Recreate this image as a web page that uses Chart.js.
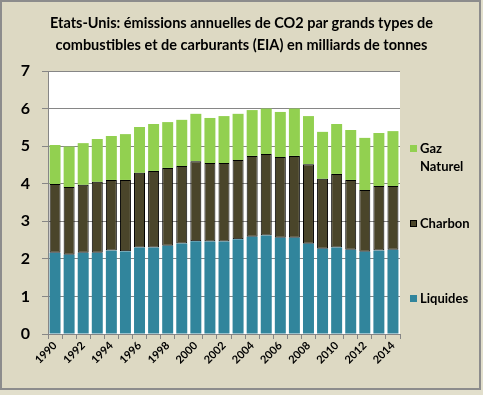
<!DOCTYPE html>
<html>
<head>
<meta charset="utf-8">
<script src="https://cdn.jsdelivr.net/npm/chart.js@4/dist/chart.umd.min.js"></script>
<style>
  html, body { margin: 0; padding: 0; background: #DDD9C3; }
  #wrap { position: relative; width: 483px; height: 395px; overflow: hidden; }
  #c { position: absolute; left: 0; top: 0; }
  #title { position: absolute; left: 0; top: 12px; width: 483px; text-align: center;
    font-family: Lato, sans-serif; font-weight: bold; font-size: 14.5px; line-height: 22px; color: #000; }
  .lg { position: absolute; left: 410px; font-family: Lato, sans-serif; font-weight: bold; font-size: 13px; line-height: 18px; color: #000; }
  .lg span.box { position: absolute; left: 0; width: 7px; height: 7px; }
  .lg span.txt { position: absolute; left: 10px; white-space: nowrap; }
</style>
</head>
<body>
<div id="wrap">
  <canvas id="c" width="483" height="395"></canvas>
  <div id="title">Etats-Unis: émissions annuelles de CO2 par grands types de<br>combustibles et de carburants (EIA) en milliards de tonnes</div>
  <div id="legend"></div>
</div>
<script>
const years = ['1990','1991','1992','1993','1994','1995','1996','1997','1998','1999','2000','2001','2002','2003','2004','2005','2006','2007','2008','2009','2010','2011','2012','2013','2014'];
const liquides = [2.16,2.11,2.16,2.16,2.22,2.20,2.30,2.30,2.35,2.41,2.47,2.46,2.46,2.52,2.59,2.62,2.56,2.56,2.40,2.27,2.30,2.24,2.19,2.22,2.24];
const charbon  = [1.83,1.80,1.81,1.89,1.88,1.90,1.99,2.04,2.07,2.06,2.13,2.09,2.09,2.11,2.15,2.17,2.15,2.18,2.12,1.86,1.96,1.86,1.64,1.72,1.70];
const gaz      = [1.04,1.08,1.11,1.14,1.17,1.22,1.22,1.25,1.22,1.23,1.26,1.20,1.25,1.23,1.22,1.21,1.20,1.26,1.28,1.25,1.33,1.33,1.39,1.41,1.46];
const yTicks = [0,1,2,3,4,5,6,7];
const seriesNames = ['Liquides','Charbon','Gaz Naturel'];
const colors = { liq: '#31859C', coal: '#4A452A', gas: '#92D050' };

// HTML legend (Gaz Naturel wraps onto two lines as in the reference)
const legendItems = [
  { lines: ['Gaz', 'Naturel'], color: colors.gas, top: 139, border: 'none' },
  { lines: ['Charbon'], color: colors.coal, top: 214, border: '1px solid #000' },
  { lines: ['Liquides'], color: colors.liq, top: 289, border: 'none' }
];
const lg = document.getElementById('legend');
legendItems.forEach(it => {
  const d = document.createElement('div');
  d.className = 'lg';
  d.style.top = it.top + 'px';
  const b = document.createElement('span');
  b.className = 'box';
  b.style.background = it.color;
  b.style.top = '6px';
  if (it.border !== 'none') { b.style.border = it.border; b.style.boxSizing = 'border-box'; }
  d.appendChild(b);
  const t = document.createElement('span');
  t.className = 'txt';
  t.innerHTML = it.lines.join('<br>');
  d.appendChild(t);
  lg.appendChild(d);
});

const bgPlugin = {
  id: 'bg',
  beforeDraw(chart) {
    const { ctx, chartArea: a } = chart;
    ctx.save();
    ctx.fillStyle = '#E2DFCC';
    ctx.fillRect(0, 0, chart.width, chart.height);
    ctx.fillStyle = '#DDD9C3';
    ctx.fillRect(0, 0, 481, 390);
    ctx.strokeStyle = '#8C8C8C';
    ctx.lineWidth = 2;
    ctx.strokeRect(1, 1, 479, 388);
    ctx.fillStyle = '#FFFFFF';
    ctx.fillRect(a.left, a.top, a.right - a.left, a.bottom - a.top);
    ctx.restore();
  }
};

new Chart(document.getElementById('c'), {
  type: 'bar',
  data: {
    labels: years,
    datasets: [
      { label: seriesNames[0], data: liquides, backgroundColor: colors.liq, borderWidth: 0 },
      { label: seriesNames[1], data: charbon, backgroundColor: colors.coal, borderColor: '#000', borderWidth: 1, borderSkipped: false },
      { label: seriesNames[2], data: gaz, backgroundColor: colors.gas, borderWidth: 0 }
    ]
  },
  options: {
    responsive: false,
    animation: false,
    layout: { padding: { top: 71, right: 83, left: 0, bottom: 0 } },
    datasets: { bar: { barPercentage: 0.78, categoryPercentage: 1.0 } },
    plugins: { legend: { display: false }, title: { display: false }, tooltip: { enabled: false } },
    scales: {
      x: {
        stacked: true,
        afterFit(s) { s.height = 61; },
        grid: { drawOnChartArea: false, drawTicks: true, tickLength: 5, color: '#868686', offset: true },
        border: { color: '#868686', width: 1 },
        ticks: {
          autoSkip: false, maxRotation: 45, minRotation: 45, padding: 0,
          color: '#000', font: { family: 'Lato', weight: 'bold', size: 11 },
          callback(v, i) { return i % 2 === 0 ? years[i] : ''; }
        }
      },
      y: {
        stacked: true,
        min: 0, max: 7,
        afterFit(s) { s.width = 48; },
        afterBuildTicks(s) { s.ticks = yTicks.map(v => ({ value: v })); },
        grid: { color: '#868686', tickLength: 6, drawTicks: true },
        border: { color: '#868686', width: 1 },
        ticks: { color: '#000', padding: 12, font: { family: 'Lato', weight: 'bold', size: 16 } }
      }
    }
  },
  plugins: [bgPlugin]
});
</script>
</body>
</html>
